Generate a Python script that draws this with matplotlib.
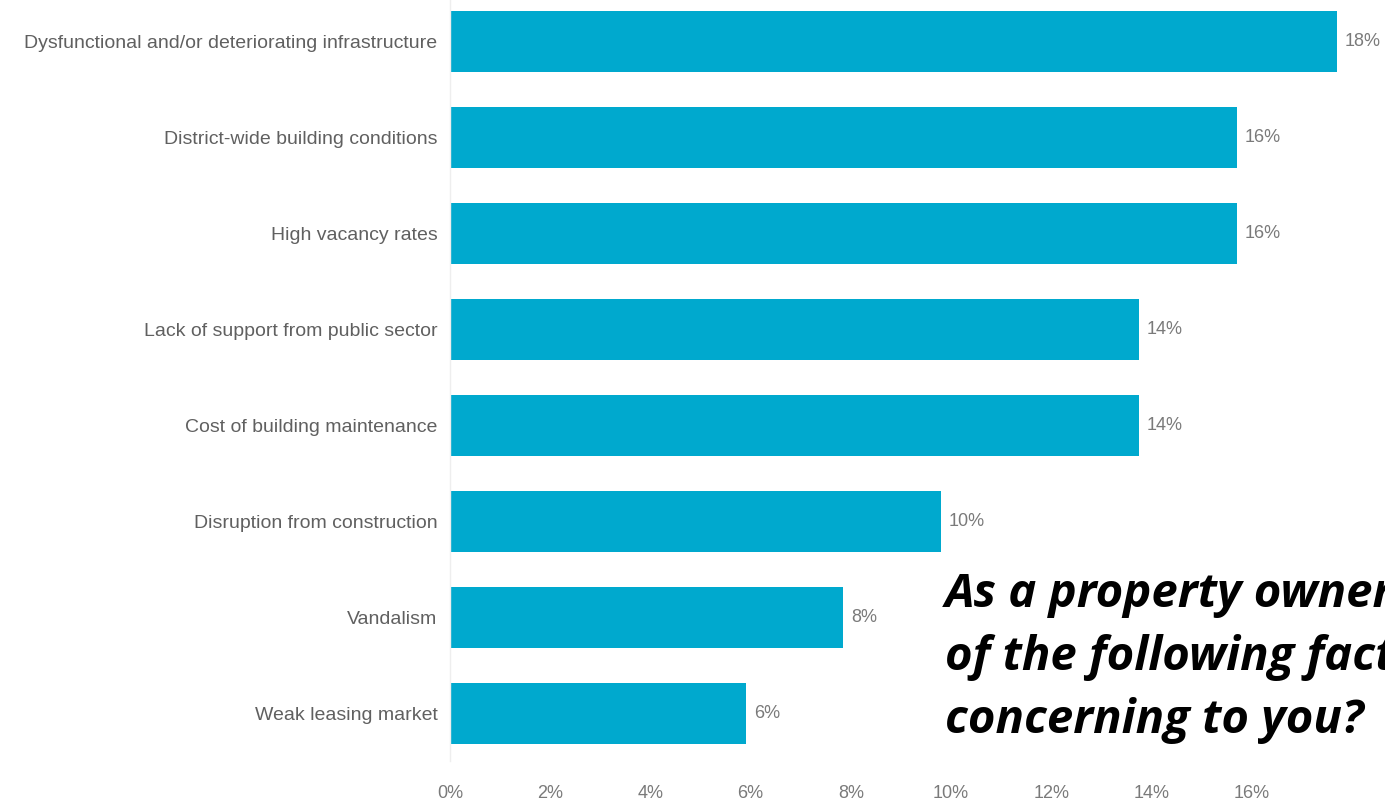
import matplotlib.pyplot as plt
from matplotlib.ticker import FuncFormatter

factors = [
    "Dysfunctional and/or deteriorating infrastructure",
    "District-wide building conditions",
    "High vacancy rates",
    "Lack of support from public sector",
    "Cost of building maintenance",
    "Disruption from construction",
    "Vandalism",
    "Weak leasing market",
]
shares = [17.7, 15.7, 15.7, 13.75, 13.75, 9.8, 7.85, 5.9]
x_ticks = [0, 2, 4, 6, 8, 10, 12, 14, 16]
question = ["As a property owner, which",
            "of the following factors are",
            "concerning to you?"]

bar_colour = "#00a9ce"
text_grey = "#606060"
num_grey = "#7a7a7a"

fig = plt.figure(figsize=(13.85, 8), dpi=100)
ax = fig.add_axes([450 / 1385, 1 - 761 / 800, 1 - 450 / 1385, 761 / 800])

ypos = list(range(len(factors)))
ax.barh(ypos, shares, height=0.64, color=bar_colour)

for y, v in zip(ypos, shares):
    ax.text(v + 0.16, y, f"{v:.0f}%", va="center", ha="left",
            fontsize=13, color=num_grey, family="Liberation Sans")

ax.set_xlim(0, 18.66)
ax.set_ylim(7.495, -0.432)
ax.set_yticks(ypos)
ax.set_yticklabels(factors, fontsize=14, color=text_grey, family="Liberation Sans")
ax.set_xticks(x_ticks)
ax.xaxis.set_major_formatter(FuncFormatter(lambda v, p: f"{v:.0f}%"))
for lbl in ax.get_xticklabels():
    lbl.set_family("Liberation Sans")
    lbl.set_fontsize(13)
    lbl.set_color(num_grey)
ax.tick_params(axis="x", length=0, pad=17)
ax.tick_params(axis="y", length=0, pad=9)

for side in ["top", "right", "bottom"]:
    ax.spines[side].set_visible(False)
ax.spines["left"].set_color("#eeeeee")
ax.spines["left"].set_linewidth(1)

# question overlaid on the lower right, one line at a time
for i, line in enumerate(question):
    fig.text(945 / 1385, 1 - (607 + 63 * i) / 800, line,
             fontsize=34, fontweight="bold", fontstyle="italic", family="Open Sans",
             color="black", ha="left", va="baseline")

fig.savefig("out.png", dpi=100)
